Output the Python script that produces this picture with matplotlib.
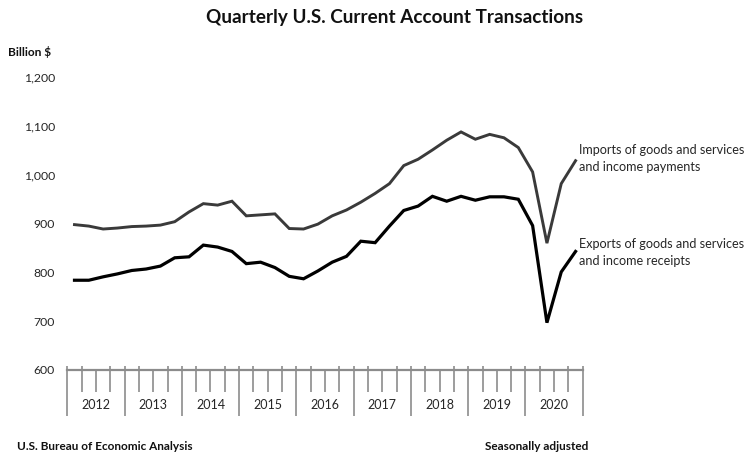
import matplotlib.pyplot as plt
import numpy as np
from matplotlib.ticker import FuncFormatter

plt.rcParams['font.family'] = ['Lato', 'DejaVu Sans']

years = ['2012', '2013', '2014', '2015', '2016', '2017', '2018', '2019', '2020']

# quarterly values, billion $, 2012Q1 .. 2020Q4
imports = [898, 895, 889, 891, 894, 895, 897, 904,
           924, 941, 938, 946, 916, 918, 920, 890,
           889, 899, 916, 928, 944, 962, 982, 1019,
           1032, 1051, 1071, 1088, 1073, 1083, 1076, 1056,
           1006, 860, 982, 1029]
exports = [784, 784, 791, 797, 804, 807, 813, 830,
           832, 856, 852, 843, 818, 821, 810, 792,
           787, 803, 821, 833, 864, 861, 895, 927,
           936, 956, 946, 956, 948, 955, 955, 950,
           896, 697, 801, 843]

gray = '#8c8c8c'
txt = '#262626'

fig = plt.figure(figsize=(7.49, 4.59), dpi=100)
ax = fig.add_axes([0.0899, 0.1939, 0.6881, 0.6377])

x = np.arange(len(imports)) + 0.5
ax.plot(x, imports, color='#3a3a3a', lw=2.1, solid_joinstyle='miter')
ax.plot(x, exports, color='#000000', lw=2.3, solid_joinstyle='miter')

ax.set_xlim(0, len(imports))
ax.set_ylim(600, 1200)
ax.set_yticks(range(600, 1201, 100))
ax.yaxis.set_major_formatter(FuncFormatter(lambda v, p: f'{int(v):,}'))
ax.tick_params(axis='y', length=0, pad=9, labelsize=8.8, labelcolor=txt)

for s in ['top', 'right', 'left']:
    ax.spines[s].set_visible(False)
ax.spines['bottom'].set_color(gray)
ax.spines['bottom'].set_linewidth(1.6)

# year boundaries (long) and quarter boundaries (short)
ax.set_xticks(np.arange(0, 37, 4))
ax.set_xticks([q for q in range(37) if q % 4], minor=True)
ax.tick_params(axis='x', which='major', direction='out', length=33,
               width=1.2, color=gray, labelbottom=False)
ax.tick_params(axis='x', which='minor', direction='out', length=16,
               width=1.2, color=gray)

# small stubs above the axis line and the year labels
sec = ax.secondary_xaxis('bottom')
sec.spines['bottom'].set_visible(False)
sec.set_xticks(np.arange(2, 37, 4), labels=years)
sec.set_xticks(np.arange(0, 37, 1), minor=True)
sec.tick_params(which='major', length=0, pad=21, labelsize=9, labelcolor=txt)
sec.tick_params(which='minor', direction='in', length=3, width=1.2, color=gray)

ax.text(35.75, 1033, 'Imports of goods and services\nand income payments',
        fontsize=9.1, color=txt, va='center', ha='left', linespacing=1.5,
        clip_on=False)
ax.text(35.75, 841, 'Exports of goods and services\nand income receipts',
        fontsize=9.1, color=txt, va='center', ha='left', linespacing=1.5,
        clip_on=False)

fig.text(395 / 749, 1 - 17 / 459, 'Quarterly U.S. Current Account Transactions',
         ha='center', va='center', fontsize=13.6, fontweight='bold', color='#111111')
fig.text(8 / 749, 1 - 52 / 459, 'Billion $', ha='left', va='center',
         fontsize=8.6, fontweight='bold', color='#111111')
fig.text(17 / 749, 1 - 447 / 459, 'U.S. Bureau of Economic Analysis',
         ha='left', va='center', fontsize=8.5, fontweight='bold', color='#111111')
fig.text(588 / 749, 1 - 447 / 459, 'Seasonally adjusted',
         ha='right', va='center', fontsize=8.5, fontweight='bold', color='#111111')

fig.savefig('out.png', dpi=100)
